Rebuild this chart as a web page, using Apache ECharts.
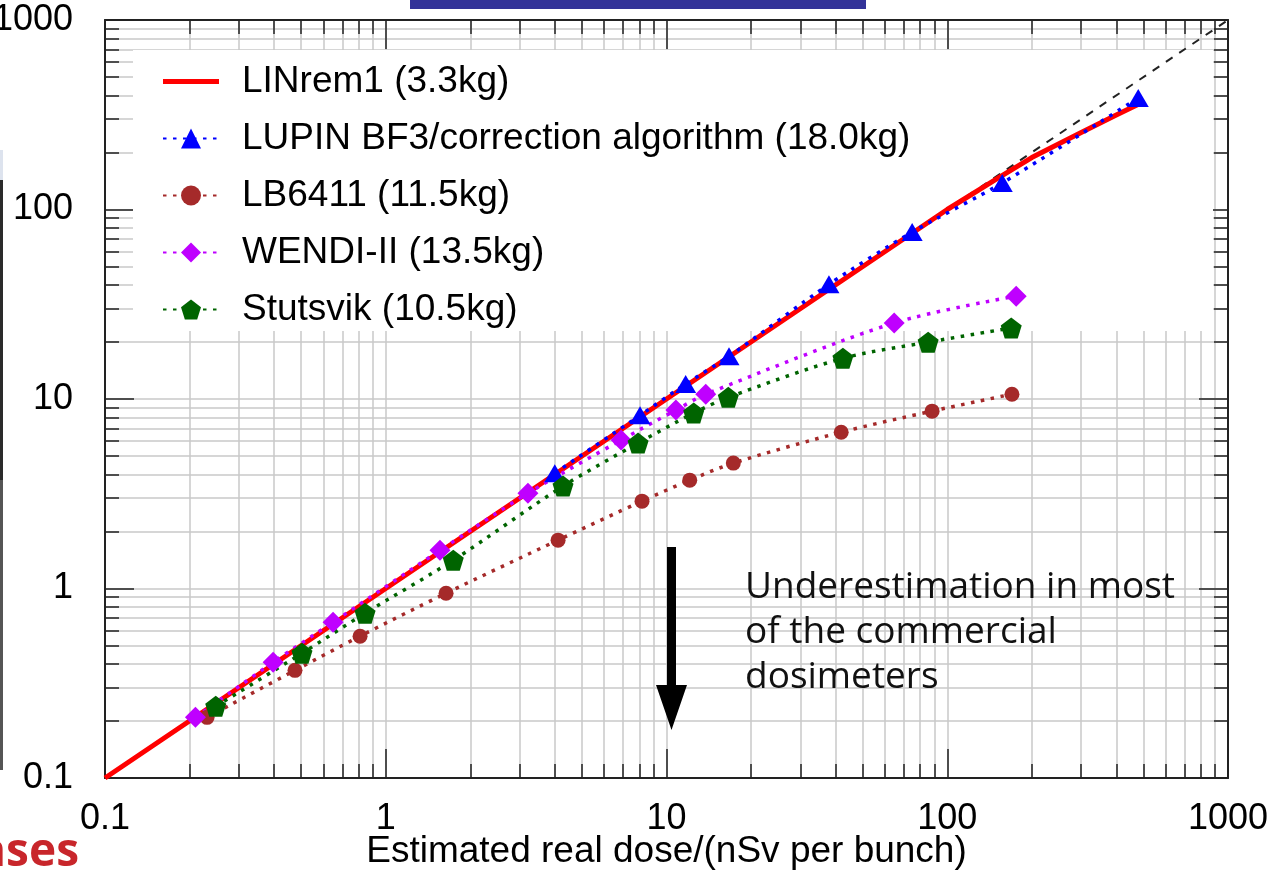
<!DOCTYPE html>
<html>
<head>
<meta charset="utf-8">
<script src="https://cdn.jsdelivr.net/npm/echarts@6/dist/echarts.min.js"></script>
<style>
  html, body { margin: 0; padding: 0; background: #fff; }
  #chart { width: 1281px; height: 873px; }
</style>
</head>
<body>
<div id="chart"></div>
<script>
// tick labels on both log axes
const majorTicks = [0.1, 1, 10, 100, 1000];
const minorSteps = [1, 2, 3, 4, 5, 6, 7, 8, 9];

const linrem1 = [[0.1, 0.1], [1, 1], [10, 10], [100, 100], [150, 145], [200, 188], [300, 255], [400, 315], [490, 365]];
const lupin = [[4.0, 4.06], [8.05, 8.2], [11.7, 12.0], [16.7, 16.8], [37.9, 40.3], [75, 76], [157, 138], [479, 388]];
const lb6411 = [[0.231, 0.209], [0.475, 0.37], [0.81, 0.56], [1.64, 0.944], [4.11, 1.8], [8.18, 2.89], [12.1, 3.73], [17.3, 4.59], [41.9, 6.68], [88.3, 8.63], [170, 10.6]];
const wendi = [[0.21, 0.209], [0.397, 0.408], [0.649, 0.664], [1.56, 1.59], [3.21, 3.18], [6.89, 6.07], [10.8, 8.74], [13.8, 10.6], [64.7, 25.2], [176, 34.9]];
const stutsvik = [[0.248, 0.239], [0.503, 0.455], [0.844, 0.741], [1.74, 1.41], [4.28, 3.47], [7.92, 5.85], [12.5, 8.43], [16.6, 10.2], [42.5, 16.4], [85.5, 19.95], [169, 23.7]];
const identity = [[0.1, 0.1], [1000, 1000]];

const seriesNames = ['LINrem1 (3.3kg)', 'LUPIN BF3/correction algorithm (18.0kg)', 'LB6411 (11.5kg)', 'WENDI-II (13.5kg)', 'Stutsvik (10.5kg)'];

const gridTicks = majorTicks.flatMap(d => minorSteps.map(m => +(d * m).toPrecision(3))).filter(v => v <= 1000);

const FONT = 'Liberation Sans';
const TICK = '#222';
const pentagon = 'path://M0,-10 L9.51,-3.09 L5.88,8.09 L-5.88,8.09 L-9.51,-3.09 Z';

const chart = echarts.init(document.getElementById('chart'));

// one log axis; "ticks" decides minor or major
const logAxis = (extra) => Object.assign({
  type: 'log',
  logBase: 10,
  min: 0.1,
  max: 1000,
  axisLine: { show: false },
  axisTick: { show: false },
  axisLabel: { show: false },
  splitLine: { show: false }
}, extra);

const minorTick = { show: true, inside: true, length: 14, customValues: gridTicks, lineStyle: { color: TICK, width: 1.5 } };
const majorTick = { show: true, inside: true, length: 29, customValues: majorTicks, lineStyle: { color: TICK, width: 1.5 } };
const labelStyle = { show: true, customValues: majorTicks, color: '#000', fontFamily: FONT, fontSize: 36 };

const dotted = (color) => ({ color: color, width: 3.5, type: [3.5, 6.5] });

chart.setOption({
  backgroundColor: '#fff',
  animation: false,
  grid: { left: 105, right: 53, top: 20, bottom: 95, containLabel: false, outerBoundsMode: 'none' },
  xAxis: [
    logAxis({
      position: 'bottom',
      axisLine: { show: true, lineStyle: { color: TICK, width: 2 } },
      axisTick: minorTick,
      axisLabel: Object.assign({ margin: 23, formatter: v => String(v) }, labelStyle),
      splitLine: { show: true, lineStyle: { color: '#c8c8c8', width: 1.5 } },
      name: 'Estimated real dose/(nSv per bunch)',
      nameLocation: 'middle',
      nameGap: 55,
      nameMoveOverlap: false,
      nameTextStyle: { color: '#000', fontFamily: FONT, fontSize: 37 }
    }),
    logAxis({ position: 'bottom', axisTick: majorTick }),
    logAxis({ position: 'top', axisLine: { show: true, lineStyle: { color: TICK, width: 2 } }, axisTick: minorTick }),
    logAxis({ position: 'top', axisTick: majorTick })
  ],
  yAxis: [
    logAxis({
      position: 'left',
      axisLine: { show: true, lineStyle: { color: TICK, width: 2 } },
      axisTick: minorTick,
      axisLabel: Object.assign({ margin: 32, formatter: v => String(v) }, labelStyle),
      splitLine: { show: true, lineStyle: { color: '#c8c8c8', width: 1.5 } }
    }),
    logAxis({ position: 'left', axisTick: majorTick }),
    logAxis({ position: 'right', axisLine: { show: true, lineStyle: { color: TICK, width: 2 } }, axisTick: minorTick }),
    logAxis({ position: 'right', axisTick: majorTick })
  ],
  legend: {
    orient: 'vertical',
    left: 157,
    top: 58,
    itemWidth: 56,
    itemHeight: 25,
    itemGap: 20,
    data: [
      { name: seriesNames[0], icon: 'path://M0,0H56V5H0Z' },
      seriesNames[1], seriesNames[2], seriesNames[3], seriesNames[4]
    ],
    textStyle: { color: '#000', fontFamily: FONT, fontSize: 37, padding: [0, 0, 0, 18] }
  },
  graphic: [
    // white legend panel hiding the grid, below the series
    { type: 'rect', z: 1, shape: { x: 133, y: 50, width: 1080, height: 281 }, style: { fill: '#fff' } },
    // slide decorations around the figure
    { type: 'rect', z: 10, shape: { x: 410, y: 0, width: 456, height: 9 }, style: { fill: '#333399' } },
    { type: 'rect', z: 10, shape: { x: 0, y: 150, width: 3, height: 30 }, style: { fill: '#dde3ee' } },
    { type: 'rect', z: 10, shape: { x: 0, y: 180, width: 3, height: 300 }, style: { fill: '#2a2a2a' } },
    { type: 'rect', z: 10, shape: { x: 0, y: 480, width: 3, height: 290 }, style: { fill: '#555' } },
    { type: 'text', z: 10, style: { text: 'ases', x: 79, y: 876, align: 'right', verticalAlign: 'bottom', fill: '#c8262b', font: 'bold 46px "Open Sans"' } },
    // annotation arrow and text
    {
      type: 'polygon', z: 10,
      shape: { points: [[667, 547], [676, 547], [676, 685], [687, 685], [671.5, 730], [656, 685], [667, 685]] },
      style: { fill: '#000' }
    },
    {
      type: 'text', z: 10,
      style: {
        text: 'Underestimation in most\nof the commercial\ndosimeters',
        x: 745, y: 565, lineHeight: 45,
        fill: '#111', font: '37px "Open Sans"'
      }
    }
  ],
  series: [
    {
      name: 'identity', type: 'line', data: identity, symbol: 'none', silent: true,
      lineStyle: { color: '#222', width: 2, type: [8, 8] }, z: 2
    },
    {
      name: seriesNames[0], type: 'line', data: linrem1, symbol: 'none',
      itemStyle: { color: '#ff0000' }, lineStyle: { color: '#ff0000', width: 5 }, z: 3
    },
    {
      name: seriesNames[1], type: 'line', data: lupin, symbol: 'triangle', symbolSize: [21, 18], smooth: 0.25,
      itemStyle: { color: '#0000ff' }, lineStyle: dotted('#0000ff'), z: 4
    },
    {
      name: seriesNames[2], type: 'line', data: lb6411, symbol: 'circle', symbolSize: 15, smooth: 0.3,
      itemStyle: { color: '#a52a2a' }, lineStyle: dotted('#a52a2a'), z: 4
    },
    {
      name: seriesNames[3], type: 'line', data: wendi, symbol: 'diamond', symbolSize: 21, smooth: 0.3,
      itemStyle: { color: '#bf00ff' }, lineStyle: dotted('#bf00ff'), z: 4
    },
    {
      name: seriesNames[4], type: 'line', data: stutsvik, symbol: pentagon, symbolSize: 21, smooth: 0.3,
      itemStyle: { color: '#006400' }, lineStyle: dotted('#006400'), z: 4
    }
  ]
});
</script>
</body>
</html>
